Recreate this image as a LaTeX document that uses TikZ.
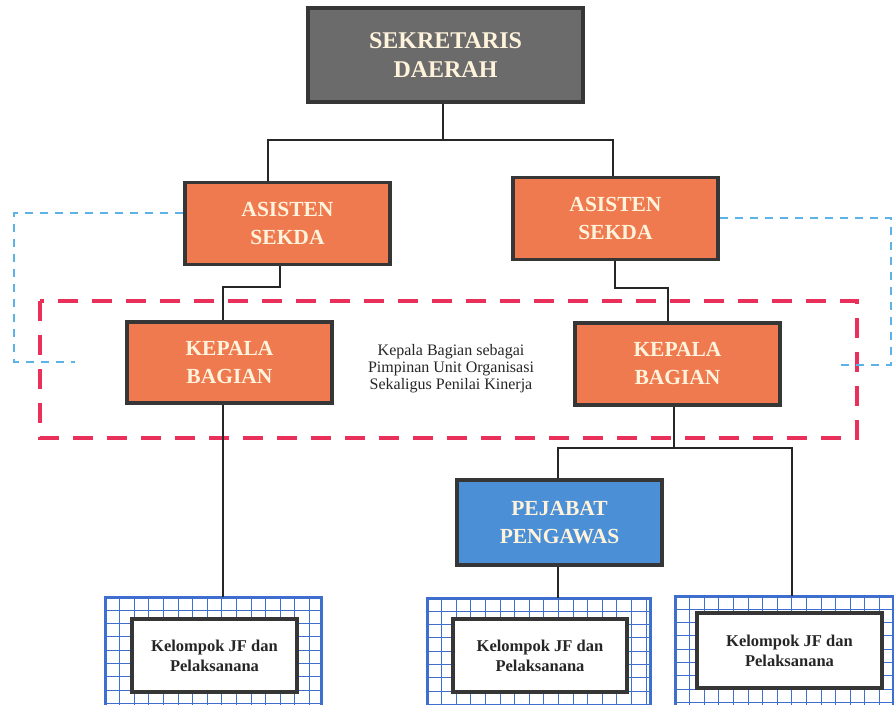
\documentclass[tikz,border=0pt]{standalone}
\usepackage{fontspec}
\setmainfont{Liberation Serif}
\definecolor{sekgray}{HTML}{6B6B6B}
\definecolor{bord}{HTML}{363636}
\definecolor{orng}{HTML}{EF7A4F}
\definecolor{cream}{HTML}{FFF3DC}
\definecolor{pblue}{HTML}{4B8FD6}
\definecolor{gblue}{HTML}{3E6FCF}
\definecolor{redd}{HTML}{E8305A}
\definecolor{lblue}{HTML}{5DB2E6}
\tikzset{
  unitbox/.style={draw=bord, line width=3.5pt, fill=orng, minimum width=205pt, minimum height=82pt,
    align=center, text=cream, font=\fontsize{21.5}{28}\selectfont\bfseries},
  whitebox/.style={draw=bord, line width=3.5pt, fill=white, align=center,
    font=\fontsize{16.5}{20}\selectfont\bfseries, text=black!85},
  conn/.style={draw=black!85, line width=2.8pt},
  reddash/.style={draw=redd, line width=4pt, dash pattern=on 20pt off 14pt},
  bluedash/.style={draw=lblue, line width=1.3pt, dash pattern=on 8pt off 7pt},
}
\newcommand{\gridbox}[4]{%
  \begin{scope}
    \clip (#1,#2) rectangle (#3,#4);
    \fill[white] (#1,#2) rectangle (#3,#4);
    \foreach \gx in {0,14.6,...,240} {\draw[gblue, line width=1pt] (#1+\gx,#2) -- (#1+\gx,#4);}
    \foreach \gy in {0,13.3,...,120} {\draw[gblue, line width=1pt] (#1,#2+\gy) -- (#3,#2+\gy);}
  \end{scope}
  \draw[gblue, line width=3pt] (#1,#2) rectangle (#3,#4);
}
\begin{document}
\begin{tikzpicture}[x=1pt,y=-1pt]
\useasboundingbox (0,0) rectangle (894,704);
% dashed frames
\draw[reddash] (40,301) rectangle (857,438);
% grid boxes
\gridbox{105}{597}{321}{708}
\gridbox{427}{598}{650}{708}
\gridbox{675}{596}{893}{708}
% nodes
\node[unitbox, fill=sekgray, minimum width=275pt, minimum height=94pt, font=\fontsize{24}{29}\selectfont\bfseries] (sek) at (445.5,55) {SEKRETARIS\\DAERAH};
\node[unitbox] (asL) at (287.5,223.5) {ASISTEN\\SEKDA};
\node[unitbox] (asR) at (615.5,218.5) {ASISTEN\\SEKDA};
\node[unitbox, minimum height=81pt] (kbL) at (229.5,362.5) {KEPALA\\BAGIAN};
\node[unitbox] (kbR) at (677.5,364) {KEPALA\\BAGIAN};
\node[unitbox, fill=pblue, minimum height=85pt] (pej) at (559.5,522.5) {PEJABAT\\PENGAWAS};
\node[whitebox, minimum width=165pt, minimum height=73pt] (kjL) at (214.5,655.5) {Kelompok JF dan\\Pelaksanana};
\node[whitebox, minimum width=174pt, minimum height=73pt] (kjM) at (540,655.5) {Kelompok JF dan\\Pelaksanana};
\node[whitebox, minimum width=185pt, minimum height=75pt] (kjR) at (789.5,650.5) {Kelompok JF dan\\Pelaksanana};
\node[align=center, font=\fontsize{16}{17}\selectfont, text=black!85] (note) at (451,369)
  {Kepala Bagian sebagai\\Pimpinan Unit Organisasi\\Sekaligus Penilai Kinerja};
% blue dashed
\coordinate (bl1) at (14,213); \coordinate (bl2) at (14,362); \coordinate (bl3) at (75,362);
\coordinate (br1) at (891,218); \coordinate (br2) at (891,365); \coordinate (br3) at (838,365);
\draw[bluedash] (asL.west |- bl1) -- (bl1) -- (bl2) -- (bl3);
\draw[bluedash] (asR.east |- br1) -- (br1) -- (br2) -- (br3);
% connectors
\coordinate (busL) at (268,140); \coordinate (busR) at (613,140);
\draw[conn] (sek.south -| 443,0) -- (443,140);
\draw[conn] (asL.north -| busL) -- (busL) -- (busR) -- (asR.north -| busR);
\coordinate (l1) at (280,287); \coordinate (l2) at (223,287);
\draw[conn] (asL.south -| l1) -- (l1) -- (l2) -- (kbL.north -| l2);
\coordinate (r1) at (615,288); \coordinate (r2) at (668,288);
\draw[conn] (asR.south -| r1) -- (r1) -- (r2) -- (kbR.north -| r2);
\draw[conn] (kbL.south -| l2) -- (223,597);
\coordinate (m0) at (674,448); \coordinate (m1) at (558,448); \coordinate (m2) at (792,448);
\draw[conn] (kbR.south -| m0) -- (m0);
\draw[conn] (pej.north -| m1) -- (m1) -- (m2) -- (792,596);
\draw[conn] (pej.south -| m1) -- (558,598);
\end{tikzpicture}
\end{document}
